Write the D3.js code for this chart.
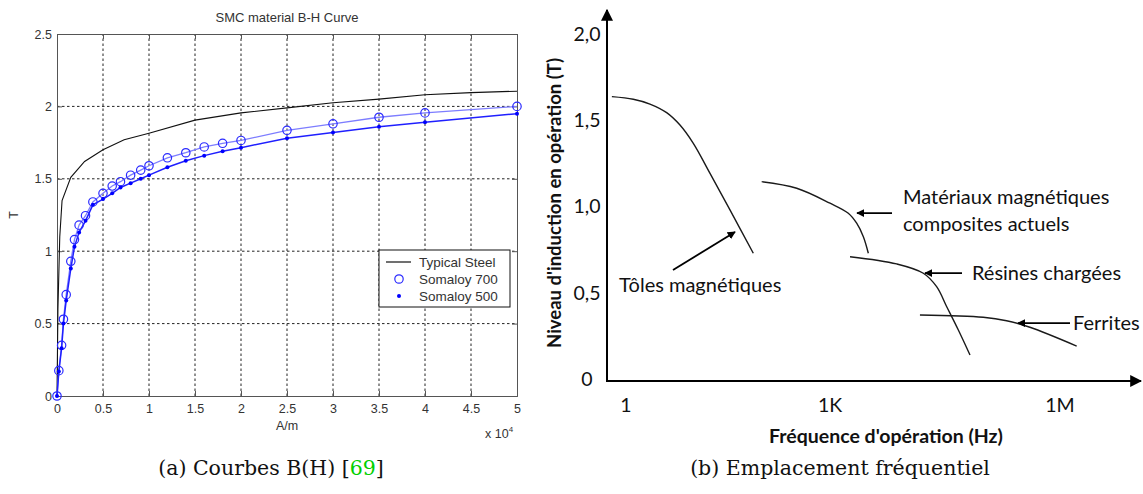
<!DOCTYPE html>
<html>
<head>
<meta charset="utf-8">
<script src="https://cdn.jsdelivr.net/npm/d3@7"></script>
<style>
  html, body { margin: 0; padding: 0; background: #fff; }
  svg { display: block; }
</style>
</head>
<body>
<svg id="chart" width="1143" height="494"></svg>
<script>
// ---------- Data: (a) B-H curves ----------
const steelH = [0, 0.01, 0.03, 0.055, 0.15, 0.3, 0.5, 0.73, 1.0, 1.5, 2.0, 2.5, 3.0, 3.5, 4.0, 4.5, 5.0];
const steelB = [0, 0.6, 1.1, 1.35, 1.51, 1.62, 1.70, 1.77, 1.815, 1.905, 1.955, 1.99, 2.025, 2.05, 2.08, 2.095, 2.105];

const s700H = [0, 0.02, 0.05, 0.07, 0.1, 0.15, 0.19, 0.24, 0.31, 0.39, 0.5, 0.6, 0.69, 0.8, 0.91, 1.0, 1.2, 1.4, 1.6, 1.8, 2.0, 2.5, 3.0, 3.5, 4.0, 5.0];
const s700B = [0, 0.175, 0.35, 0.53, 0.70, 0.93, 1.08, 1.18, 1.245, 1.34, 1.40, 1.45, 1.48, 1.525, 1.56, 1.59, 1.645, 1.68, 1.72, 1.745, 1.765, 1.835, 1.88, 1.925, 1.955, 2.0];

const s500H = [0, 0.02, 0.05, 0.07, 0.1, 0.15, 0.19, 0.24, 0.31, 0.39, 0.5, 0.6, 0.69, 0.8, 0.91, 1.0, 1.2, 1.4, 1.6, 1.8, 2.0, 2.5, 3.0, 3.5, 4.0, 5.0];
const s500B = [0, 0.17, 0.33, 0.5, 0.66, 0.88, 1.03, 1.13, 1.21, 1.32, 1.36, 1.40, 1.44, 1.47, 1.50, 1.525, 1.58, 1.625, 1.66, 1.69, 1.715, 1.78, 1.82, 1.86, 1.89, 1.95];

const xTicksA = [0, 0.5, 1, 1.5, 2, 2.5, 3, 3.5, 4, 4.5, 5];
const yTicksA = [0, 0.5, 1, 1.5, 2, 2.5];
const legendA = ["Typical Steel", "Somaloy 700", "Somaloy 500"];

// ---------- Data: (b) frequency placement ----------
const tolesF = [0.62, 1.28, 2.25, 3.96, 6.22, 9.77, 17.2, 33.8, 74.5];
const tolesT = [1.637, 1.622, 1.594, 1.544, 1.472, 1.366, 1.192, 0.980, 0.729];

const smcF = [99, 324, 1000, 1733, 2228, 2723, 3162];
const smcT = [1.144, 1.106, 1.019, 0.961, 0.903, 0.825, 0.729];

const resinF = [1824, 7410, 16500, 24600, 33300, 47200, 67000];
const resinT = [0.709, 0.667, 0.613, 0.535, 0.419, 0.284, 0.139];

const ferriteF = [14900, 99800, 201000, 405000, 1650000];
const ferriteT = [0.371, 0.358, 0.338, 0.300, 0.191];

const yTicksB = [0, 0.5, 1, 1.5, 2];
const yTickLabelsB = ["0", "0,5", "1,0", "1,5", "2,0"];
const xTicksB = [1, 1e3, 1e6];
const xTickLabelsB = ["1", "1K", "1M"];

const annText = ["Tôles magnétiques", "Matériaux magnétiques", "composites actuels", "Résines chargées", "Ferrites"];
const annF = [0.79, 8960, 8960, 71100, 1480000];
const annT = [0.545, 1.054, 0.898, 0.614, 0.324];

const arrowTailF = [4.91, 6440, 52700, 1350000];
const arrowTailT = [0.632, 0.962, 0.614, 0.324];
const arrowTipF  = [40.1, 2250, 17340, 283000];
const arrowTipT  = [0.852, 0.962, 0.614, 0.324];

// ---------- Drawing ----------
const svg = d3.select("#chart");
svg.append("rect").attr("width", 1143).attr("height", 494).attr("fill", "#fff");

const defs = svg.append("defs");
defs.append("marker").attr("id", "ah").attr("viewBox", "0 0 10 10")
  .attr("refX", 9).attr("refY", 5).attr("markerWidth", 8).attr("markerHeight", 8)
  .attr("markerUnits", "userSpaceOnUse").attr("orient", "auto")
  .append("path").attr("d", "M0,0 L10,5 L0,10 z").attr("fill", "#000");
defs.append("marker").attr("id", "ahAxis").attr("viewBox", "0 0 10 10")
  .attr("refX", 9).attr("refY", 5).attr("markerWidth", 12).attr("markerHeight", 12)
  .attr("markerUnits", "userSpaceOnUse").attr("orient", "auto")
  .append("path").attr("d", "M0,0 L10,5 L0,10 z").attr("fill", "#000");

// ===== (a) =====
const xA = d3.scaleLinear().domain([0, 5]).range([57, 517]);
const yA = d3.scaleLinear().domain([0, 2.5]).range([396, 34]);
const gA = svg.append("g");
const matFont = "'Liberation Sans', Arial, sans-serif";

// grid
gA.append("g").selectAll("line").data(xTicksA.slice(1, -1)).join("line")
  .attr("x1", d => xA(d)).attr("x2", d => xA(d)).attr("y1", yA(0)).attr("y2", yA(2.5))
  .attr("stroke", "#222").attr("stroke-width", 1).attr("stroke-dasharray", "2.5,2.5");
gA.append("g").selectAll("line").data(yTicksA.slice(1, -1)).join("line")
  .attr("x1", xA(0)).attr("x2", xA(5)).attr("y1", d => yA(d)).attr("y2", d => yA(d))
  .attr("stroke", "#222").attr("stroke-width", 1).attr("stroke-dasharray", "2.5,2.5");

// axes with inward ticks (Matlab style)
const axB = d3.axisBottom(xA).tickValues(xTicksA).tickSize(-5).tickPadding(8).tickFormat(d3.format("~g"));
const axT = d3.axisTop(xA).tickValues(xTicksA).tickSize(-5).tickFormat("");
const axL = d3.axisLeft(yA).tickValues(yTicksA).tickSize(-5).tickPadding(5).tickFormat(d3.format("~g"));
const axR = d3.axisRight(yA).tickValues(yTicksA).tickSize(-5).tickFormat("");
function styleAx(g) {
  g.selectAll(".domain").attr("stroke", "#555");
  g.selectAll(".tick line").attr("stroke", "#555");
  g.selectAll("text").attr("fill", "#333").style("font-family", matFont).style("font-size", "12.5px");
}
gA.append("g").attr("transform", `translate(0,${yA(0)})`).call(axB).call(styleAx);
gA.append("g").attr("transform", `translate(0,${yA(2.5)})`).call(axT).call(styleAx);
gA.append("g").attr("transform", `translate(${xA(0)},0)`).call(axL).call(styleAx);
gA.append("g").attr("transform", `translate(${xA(5)},0)`).call(axR).call(styleAx);

// curves
const lineA = d3.line().x(d => xA(d[0])).y(d => yA(d[1]));
const steel = steelH.map((h, i) => [h, steelB[i]]);
const s700 = s700H.map((h, i) => [h, s700B[i]]);
const s500 = s500H.map((h, i) => [h, s500B[i]]);

gA.append("path").datum(steel).attr("d", lineA).attr("fill", "none").attr("stroke", "#111").attr("stroke-width", 1.1);
gA.append("path").datum(s700).attr("d", lineA).attr("fill", "none").attr("stroke", "#7d7dff").attr("stroke-width", 1.3);
gA.append("path").datum(s500).attr("d", lineA).attr("fill", "none").attr("stroke", "#1f1fff").attr("stroke-width", 1.5);
gA.append("g").selectAll("circle").data(s700).join("circle")
  .attr("cx", d => xA(d[0])).attr("cy", d => yA(d[1])).attr("r", 4.2)
  .attr("fill", "none").attr("stroke", "#2a2aff").attr("stroke-width", 1.2);
gA.append("g").selectAll("circle").data(s500).join("circle")
  .attr("cx", d => xA(d[0])).attr("cy", d => yA(d[1])).attr("r", 2)
  .attr("fill", "#0000ff");

// title and labels
gA.append("text").attr("x", (xA(0) + xA(5)) / 2).attr("y", 22).attr("text-anchor", "middle")
  .style("font-family", matFont).style("font-size", "13px").attr("fill", "#333").text("SMC material B-H Curve");
gA.append("text").attr("x", (xA(0) + xA(5)) / 2).attr("y", 430).attr("text-anchor", "middle")
  .style("font-family", matFont).style("font-size", "12.5px").attr("fill", "#333").text("A/m");
gA.append("text").attr("transform", "translate(18,215) rotate(-90)").attr("text-anchor", "middle")
  .style("font-family", matFont).style("font-size", "12.5px").attr("fill", "#333").text("T");
const xten = gA.append("text").attr("x", 485).attr("y", 438)
  .style("font-family", matFont).style("font-size", "12.5px").attr("fill", "#333");
xten.append("tspan").text("x 10");
xten.append("tspan").attr("dy", -6).style("font-size", "8px").text("4");

// legend
const lg = gA.append("g").attr("transform", "translate(379,250)");
lg.append("rect").attr("width", 131).attr("height", 57).attr("fill", "#fff").attr("stroke", "#111").attr("stroke-width", 1);
const lgRow = legendA.map((t, i) => ({ t, i }));
lg.selectAll("text").data(lgRow).join("text")
  .attr("x", 40).attr("y", d => 16.5 + d.i * 17)
  .style("font-family", matFont).style("font-size", "13.5px").attr("fill", "#333").text(d => d.t);
lg.append("line").attr("x1", 7).attr("x2", 32).attr("y1", 12).attr("y2", 12).attr("stroke", "#111").attr("stroke-width", 1.2);
lg.append("circle").attr("cx", 20).attr("cy", 29).attr("r", 4.2).attr("fill", "none").attr("stroke", "#2a2aff").attr("stroke-width", 1.2);
lg.append("circle").attr("cx", 20).attr("cy", 46).attr("r", 2).attr("fill", "#0000ff");

// caption (a)
const capFont = "'DejaVu Serif', 'Liberation Serif', serif";
const capA = svg.append("text").attr("x", 271).attr("y", 475).attr("text-anchor", "middle")
  .style("font-family", capFont).style("font-size", "20.5px").attr("fill", "#111");
capA.append("tspan").text("(a)  Courbes B(H) [");
capA.append("tspan").attr("fill", "#00d000").text("69");
capA.append("tspan").text("]");

// ===== (b) =====
const xB = d3.scaleLog().domain([1, 1e3, 1e6]).range([626, 830, 1060]);
const yB = d3.scaleLinear().domain([0, 2]).range([379, 34]);
const gB = svg.append("g");
const calFont = "Lato, 'Open Sans', sans-serif";
const axisX0 = 607, axisY0 = 381;

// axes with arrowheads
gB.append("line").attr("x1", axisX0).attr("x2", axisX0).attr("y1", axisY0 + 1).attr("y2", 10)
  .attr("stroke", "#000").attr("stroke-width", 2).attr("marker-end", "url(#ahAxis)");
gB.append("line").attr("x1", axisX0 - 1).attr("x2", 1141).attr("y1", axisY0).attr("y2", axisY0)
  .attr("stroke", "#000").attr("stroke-width", 2).attr("marker-end", "url(#ahAxis)");

// tick labels
gB.append("g").selectAll("text").data(yTicksB).join("text")
  .attr("x", 587).attr("y", d => yB(d)).attr("dy", "0.35em").attr("text-anchor", "middle")
  .style("font-family", calFont).style("font-size", "19.5px").attr("fill", "#111")
  .text((d, i) => yTickLabelsB[i]);
gB.append("g").selectAll("text").data(xTicksB).join("text")
  .attr("x", d => xB(d)).attr("y", 405).attr("dy", "0.35em").attr("text-anchor", "middle")
  .style("font-family", calFont).style("font-size", "19.5px").attr("fill", "#111")
  .text((d, i) => xTickLabelsB[i]);

// axis titles
gB.append("text").attr("x", 886).attr("y", 436).attr("dy", "0.35em").attr("text-anchor", "middle")
  .style("font-family", calFont).style("font-size", "19.5px").style("font-weight", "bold").attr("fill", "#111")
  .text("Fréquence d'opération (Hz)");
gB.append("text").attr("transform", "translate(555,203) rotate(-90)").attr("dy", "0.35em").attr("text-anchor", "middle")
  .style("font-family", calFont).style("font-size", "18.5px").style("font-weight", "bold").attr("fill", "#111")
  .text("Niveau d'induction en opération (T)");

// curves
const lineB = d3.line().x(d => xB(d[0])).y(d => yB(d[1])).curve(d3.curveCatmullRom.alpha(0.5));
const curvesB = [
  tolesF.map((f, i) => [f, tolesT[i]]),
  smcF.map((f, i) => [f, smcT[i]]),
  resinF.map((f, i) => [f, resinT[i]]),
  ferriteF.map((f, i) => [f, ferriteT[i]])
];
gB.append("g").selectAll("path").data(curvesB).join("path")
  .attr("d", lineB).attr("fill", "none").attr("stroke", "#1a1a1a").attr("stroke-width", 1.4);

// annotation arrows
const arrows = arrowTailF.map((f, i) => ({ x1: f, y1: arrowTailT[i], x2: arrowTipF[i], y2: arrowTipT[i] }));
gB.append("g").selectAll("line").data(arrows).join("line")
  .attr("x1", d => xB(d.x1)).attr("y1", d => yB(d.y1)).attr("x2", d => xB(d.x2)).attr("y2", d => yB(d.y2))
  .attr("stroke", "#000").attr("stroke-width", 1.8).attr("marker-end", "url(#ah)");

// annotation labels
gB.append("g").selectAll("text").data(annText).join("text")
  .attr("x", (d, i) => xB(annF[i])).attr("y", (d, i) => yB(annT[i])).attr("dy", "0.35em")
  .style("font-family", calFont).style("font-size", "20px").attr("fill", "#111")
  .text(d => d);

// caption (b)
svg.append("text").attr("x", 840).attr("y", 475).attr("text-anchor", "middle")
  .style("font-family", capFont).style("font-size", "20.5px").attr("fill", "#111")
  .text("(b) Emplacement fréquentiel");
</script>
</body>
</html>
